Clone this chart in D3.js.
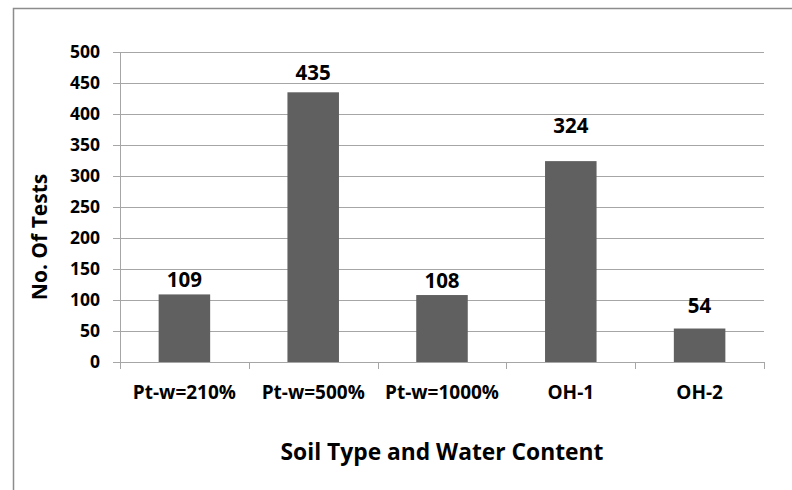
<!DOCTYPE html>
<html>
<head>
<meta charset="utf-8">
<script src="https://cdn.jsdelivr.net/npm/d3@7"></script>
<style>
  body { margin: 0; background: #fff; }
  svg { display: block; font-family: "Open Sans", Lato, sans-serif; font-weight: bold; }
</style>
</head>
<body>
<div id="chart"></div>
<script>
// chart data
const categories = ['Pt-w=210%', 'Pt-w=500%', 'Pt-w=1000%', 'OH-1', 'OH-2'];
const tests = [109, 435, 108, 324, 54];
const yTicks = [0, 50, 100, 150, 200, 250, 300, 350, 400, 450, 500];

// gap between bar top and its value label, as placed in the original
const labelGap = [7, 12, 7, 28, 16];

(function() {
  'use strict';

  const width = 792,
        height = 490,
        margin = { top: 52, right: 28, bottom: 128, left: 120 },
        innerW = width - margin.left - margin.right,
        innerH = height - margin.top - margin.bottom,
        gridColor = '#a6a6a6';

  const svg = d3.select('#chart')
    .append('svg')
    .attr('width', width)
    .attr('height', height);

  // chart frame (right and bottom edges fall outside the window)
  svg.append('rect')
    .attr('x', 13.5)
    .attr('y', 8.5)
    .attr('width', width)
    .attr('height', height)
    .attr('fill', 'none')
    .attr('stroke', '#8c8c8c')
    .attr('stroke-width', 1.5);

  const g = svg.append('g')
    .attr('transform', `translate(${margin.left},${margin.top})`);

  const x = d3.scaleBand()
    .domain(categories)
    .range([0, innerW])
    .paddingInner(0.6)
    .paddingOuter(0.3);

  const y = d3.scaleLinear()
    .domain([0, 500])
    .range([innerH, 0]);

  // gridlines + y axis
  const yAxis = g.append('g')
    .call(d3.axisLeft(y).tickValues(yTicks).tickSize(7).tickPadding(13));
  yAxis.select('.domain').attr('stroke', gridColor);
  yAxis.selectAll('.tick line').attr('stroke', gridColor);
  yAxis.selectAll('.tick text')
    .attr('fill', '#000')
    .style('font-size', '17.5px')
    .style('font-family', '"Open Sans", sans-serif')
    .style('font-weight', 'bold');

  g.append('g')
    .selectAll('line')
    .data(yTicks.filter(d => d > 0))
    .join('line')
      .attr('x1', 0)
      .attr('x2', innerW)
      .attr('y1', d => Math.round(y(d)) + 0.5)
      .attr('y2', d => Math.round(y(d)) + 0.5)
      .attr('stroke', gridColor);

  // bars
  g.selectAll('rect.bar')
    .data(tests)
    .join('rect')
      .attr('class', 'bar')
      .attr('x', (d, i) => x(categories[i]))
      .attr('y', d => y(d))
      .attr('width', x.bandwidth())
      .attr('height', d => innerH - y(d))
      .attr('fill', '#606060');

  // x axis with ticks between categories
  const xAxis = g.append('g')
    .attr('transform', `translate(0,${innerH})`);
  xAxis.append('line')
    .attr('x1', 0).attr('x2', innerW)
    .attr('y1', 0.5).attr('y2', 0.5)
    .attr('stroke', gridColor);
  const step = x.step();
  xAxis.selectAll('line.sep')
    .data(d3.range(categories.length + 1))
    .join('line')
      .attr('class', 'sep')
      .attr('x1', i => Math.round(i * step) + 0.5)
      .attr('x2', i => Math.round(i * step) + 0.5)
      .attr('y1', 0)
      .attr('y2', 7)
      .attr('stroke', gridColor);
  xAxis.selectAll('text')
    .data(categories)
    .join('text')
      .attr('x', d => x(d) + x.bandwidth() / 2)
      .attr('y', 37)
      .attr('text-anchor', 'middle')
      .style('font-size', '19px')
      .text(d => d);

  // value labels
  g.selectAll('text.val')
    .data(tests)
    .join('text')
      .attr('class', 'val')
      .attr('x', (d, i) => x(categories[i]) + x.bandwidth() / 2)
      .attr('y', (d, i) => y(d) - labelGap[i])
      .attr('text-anchor', 'middle')
      .style('font-size', '20.5px')
      .text(d => d);

  // axis titles
  svg.append('text')
    .attr('x', margin.left + innerW / 2)
    .attr('y', 460)
    .attr('text-anchor', 'middle')
    .style('font-size', '22.8px')
    .text('Soil Type and Water Content');

  svg.append('text')
    .attr('transform', 'translate(47,237) rotate(-90)')
    .attr('text-anchor', 'middle')
    .style('font-size', '21px')
    .text('No. Of Tests');
})();
</script>
</body>
</html>
